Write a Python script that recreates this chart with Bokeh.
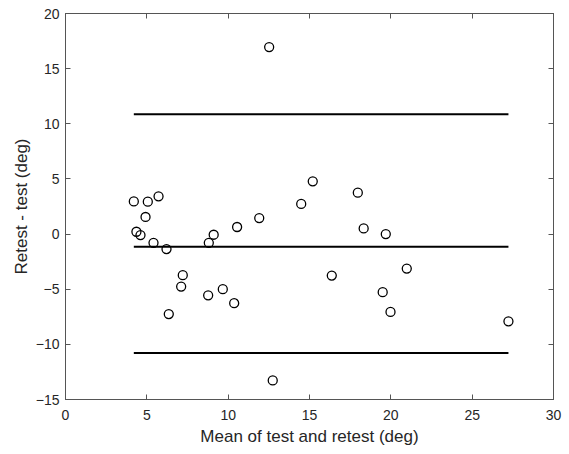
from bokeh.plotting import figure
from bokeh.models import LinearAxis, FixedTicker, Range1d
from bokeh.embed import file_html
from bokeh.resources import INLINE

# Data
mean_vals = [4.20, 5.06, 5.72, 4.92, 4.36, 4.61, 5.41, 6.21, 8.81, 9.11,
             10.55, 11.91, 7.21, 7.11, 8.77, 9.67, 10.37, 6.35, 15.20, 14.49,
             17.97, 18.33, 19.69, 27.23, 16.37, 20.98, 19.50, 19.98, 12.52, 12.74]
diff_vals = [2.96, 2.94, 3.42, 1.55, 0.21, -0.09, -0.79, -1.36, -0.79, -0.06,
             0.64, 1.45, -3.73, -4.76, -5.55, -5.00, -6.27, -7.25, 4.78, 2.73,
             3.75, 0.51, 0.00, -7.91, -3.76, -3.13, -5.27, -7.06, 16.96, -13.27]
bias = -1.15
upper_loa = 10.87
lower_loa = -10.78
x_ticks = [0, 5, 10, 15, 20, 25, 30]
y_ticks = [-15, -10, -5, 0, 5, 10, 15, 20]

FONT = "Liberation Sans"
AX = "#555555"

p = figure(width=569, height=454, output_backend="svg", toolbar_location=None,
           x_range=Range1d(0, 30), y_range=Range1d(-15, 20),
           min_border_left=65, min_border_right=16, min_border_top=13,
           min_border_bottom=55)
p.grid.visible = False
p.outline_line_color = AX
p.outline_line_width = 1
p.background_fill_color = "white"
p.border_fill_color = "white"

def style(ax, ticks, labels=True):
    ax.ticker = FixedTicker(ticks=ticks)
    ax.minor_tick_line_color = None
    ax.major_tick_in = 5
    ax.major_tick_out = 0
    ax.axis_line_color = AX
    ax.major_tick_line_color = AX
    ax.major_label_text_font = FONT
    ax.major_label_text_font_size = "14px" if labels else "0px"
    ax.major_label_text_color = "#262626"
    ax.axis_label_text_font = FONT
    ax.axis_label_text_font_size = "17px"
    ax.axis_label_text_font_style = "normal"
    ax.axis_label_text_color = "#262626"
    if not labels:
        ax.major_label_standoff = 0

style(p.xaxis[0], x_ticks)
style(p.yaxis[0], y_ticks)
p.xaxis[0].axis_label = "Mean of test and retest (deg)"
p.yaxis[0].axis_label = "Retest - test (deg)"
p.xaxis[0].major_label_standoff = 10
p.yaxis[0].major_label_standoff = 6
p.xaxis[0].axis_label_standoff = 4
p.yaxis[0].axis_label_standoff = 2

top = LinearAxis()
style(top, x_ticks, labels=False)
p.add_layout(top, "above")
right = LinearAxis()
style(right, y_ticks, labels=False)
p.add_layout(right, "right")

xmin, xmax = min(mean_vals), max(mean_vals)
for yv in (upper_loa, bias, lower_loa):
    p.line([xmin, xmax], [yv, yv], line_color="black", line_width=2)

p.scatter(mean_vals, diff_vals, marker="circle", size=9, fill_color=None,
          line_color="black", line_width=1.3)

open("out.html", "w").write(file_html(p, INLINE))
